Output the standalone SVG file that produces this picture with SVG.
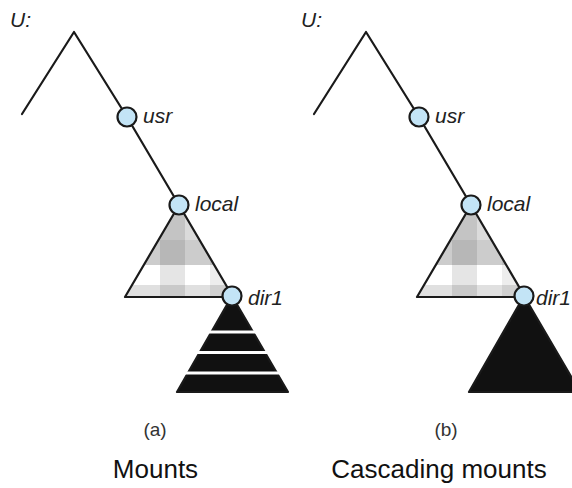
<svg xmlns="http://www.w3.org/2000/svg" width="572" height="488" viewBox="0 0 572 488">
<style>
.edge{fill:none;stroke:#1a1a1a;stroke-width:2.2;stroke-linecap:round;stroke-linejoin:round}
.node{fill:#c3e4f6;stroke:#1a1a1a;stroke-width:2.2}
.lbl{font-family:"Liberation Sans",Arial,sans-serif;font-style:italic;font-size:21px;fill:#222}
.cap{font-family:"Liberation Sans",Arial,sans-serif;font-size:19px;fill:#333;text-anchor:middle}
.title{font-family:"Liberation Sans",Arial,sans-serif;font-size:26px;fill:#111;text-anchor:middle}
.tri{stroke:#1a1a1a;stroke-width:2.2;stroke-linejoin:round}
</style>
<defs>
<clipPath id="triClip"><polygon points="179,205 125,297 233,297"/></clipPath>
<g id="plaid">
<g clip-path="url(#triClip)">
<rect x="100" y="200" width="150" height="100" fill="#ffffff"/>
<rect x="100" y="200" width="150" height="40" fill="#000" opacity="0.14"/>
<rect x="100" y="240" width="150" height="25" fill="#000" opacity="0.2"/>
<rect x="100" y="285" width="150" height="14" fill="#000" opacity="0.12"/>
<rect x="160" y="200" width="25" height="100" fill="#000" opacity="0.1"/>
<rect x="210" y="200" width="18" height="100" fill="#000" opacity="0.07"/>
</g>
<polygon class="tri" fill="none" points="179,205 125,297 233,297"/>
</g>
</defs>
<rect width="572" height="488" fill="#ffffff"/>

<g id="panel-a">
<g id="connectors-a">
<polyline class="edge" points="22,114 74,32 127,117 179,205"/>
</g>
<g id="node-U-a"><text class="lbl" x="10" y="27" font-size="20">U:</text></g>
<g id="subtree-local-a"><use href="#plaid"/></g>
<g id="subtree-dir1-a">
<polygon class="tri" fill="#111" points="232,296 177,392 288,392"/>
<rect x="170" y="330.5" width="130" height="3" fill="#fff"/>
<rect x="170" y="351" width="130" height="3" fill="#fff"/>
<rect x="170" y="371.5" width="130" height="3" fill="#fff"/>
</g>
<g id="node-usr-a"><circle class="node" cx="127" cy="117" r="9.5"/><text class="lbl" x="143" y="123">usr</text></g>
<g id="node-local-a"><circle class="node" cx="179" cy="205" r="9.5"/><text class="lbl" x="195" y="211">local</text></g>
<g id="node-dir1-a"><circle class="node" cx="232" cy="296" r="9.5"/><text class="lbl" x="248" y="305">dir1</text></g>
<text class="cap" x="155" y="436">(a)</text>
<text class="title" x="155.5" y="478">Mounts</text>
</g>

<g id="panel-b">
<g id="connectors-b">
<polyline class="edge" points="314,114 366,32 419,117 471,205"/>
</g>
<g id="node-U-b"><text class="lbl" x="301" y="27" font-size="20">U:</text></g>
<g id="subtree-local-b"><use href="#plaid" transform="translate(292,0)"/></g>
<g id="subtree-dir1-b">
<polygon class="tri" fill="#111" points="524,296 469,392 580,392"/>
</g>
<g id="node-usr-b"><circle class="node" cx="419" cy="117" r="9.5"/><text class="lbl" x="435" y="123">usr</text></g>
<g id="node-local-b"><circle class="node" cx="471" cy="205" r="9.5"/><text class="lbl" x="487" y="211">local</text></g>
<g id="node-dir1-b"><circle class="node" cx="524" cy="296" r="9.5"/><text class="lbl" x="571" y="305" font-size="18" text-anchor="end">dir1</text></g>
<text class="cap" x="446" y="436">(b)</text>
<text class="title" x="439" y="478">Cascading mounts</text>
</g>
</svg>
